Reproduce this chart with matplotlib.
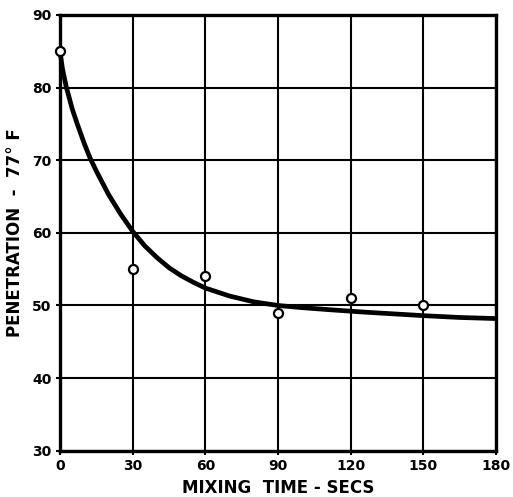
import numpy as np
import matplotlib.pyplot as plt

# measured penetration at 77 F after each mixing time
mix_time = [0, 30, 60, 90, 120, 150]
penetration = [85, 55, 54, 49, 51, 50]

# smoothed trend curve drawn through the data
curve_t = [0, 1, 2.5, 5, 7, 10, 12.4, 15, 20, 25, 30, 35, 40, 45, 50, 55, 60,
           70, 80, 90, 100, 112, 125, 140, 150, 165, 180]
curve_p = [85, 82.6, 80.2, 77.1, 75.1, 72.3, 70.3, 68.5, 65.3, 62.6, 60.2, 58.2,
           56.6, 55.2, 54.1, 53.2, 52.4, 51.3, 50.5, 50.0, 49.7, 49.4, 49.1,
           48.8, 48.6, 48.35, 48.2]

x_ticks = [0, 30, 60, 90, 120, 150, 180]
y_ticks = [30, 40, 50, 60, 70, 80, 90]

plt.rcParams['font.family'] = ['DejaVu Sans']
plt.rcParams['font.weight'] = 'bold'

fig = plt.figure(figsize=(5.13, 4.97), dpi=100)
ax = fig.add_axes([0.117, 0.093, 0.850, 0.877])

ax.set_xlim(0, 180)
ax.set_ylim(30, 90)
ax.set_xticks(x_ticks)
ax.set_yticks(y_ticks)
ax.grid(True, color='black', linewidth=1.5)
ax.set_axisbelow(True)

for side in ax.spines.values():
    side.set_linewidth(2.4)

ax.plot(curve_t, curve_p, color='black', linewidth=3.4, solid_capstyle='butt',
        solid_joinstyle='round', zorder=3, clip_on=False)
ax.plot(mix_time, penetration, linestyle='none', marker='o', markersize=6.5,
        markerfacecolor='white', markeredgecolor='black', markeredgewidth=1.6,
        zorder=4, clip_on=False)

ax.tick_params(direction='out', length=3, width=1.5, labelsize=10, pad=3)
for lbl in ax.get_xticklabels() + ax.get_yticklabels():
    lbl.set_fontweight('bold')

ax.set_xlabel('MIXING  TIME - SECS', fontsize=12, fontweight='bold', labelpad=4)
ax.set_ylabel('PENETRATION  -  77° F', fontsize=12, fontweight='bold', labelpad=6)

fig.savefig('out.png', dpi=100, facecolor='white')
